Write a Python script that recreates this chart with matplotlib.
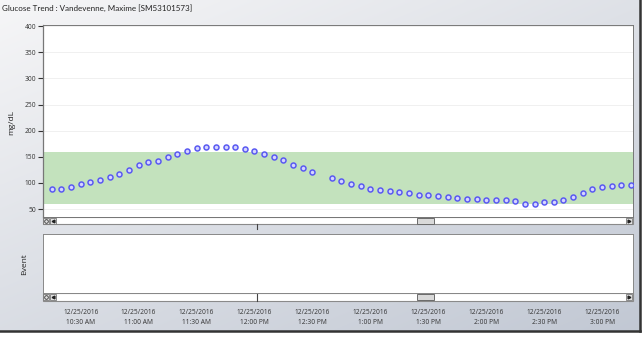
import matplotlib
matplotlib.use("Agg")
import matplotlib.pyplot as plt
import matplotlib.dates as mdates
from matplotlib.patches import Rectangle
import numpy as np
import pandas as pd

plt.rcParams['font.family'] = ['Open Sans', 'DejaVu Sans']

TITLE = "Glucose Trend : Vandevenne, Maxime [SM53101573]"

# one reading every 5 minutes from 10:15 to 15:15, 12:35 reading missing
glucose = [88, 88, 92, 98, 101, 106, 111, 118, 124, 134,
           140, 142, 149, 156, 162, 166, 168, 169, 169, 168,
           165, 161, 156, 149, 143, 135, 128, 121, np.nan, 109,
           104, 98, 94, 88, 86, 84, 83, 80, 78, 77,
           76, 74, 72, 70, 69, 67, 67, 67, 65, 59,
           60, 63, 64, 68, 74, 81, 88, 92, 95, 96,
           97]
times = pd.date_range("2016-12-25 10:15", periods=len(glucose), freq="5min")

target_low, target_high = 60, 160
y_ticks = [50, 100, 150, 200, 250, 300, 350, 400]
x_start = pd.Timestamp("2016-12-25 10:10:30")
x_end = pd.Timestamp("2016-12-25 15:15:50")
x_ticks = pd.date_range("2016-12-25 10:30", "2016-12-25 15:00", freq="30min")

W, H = 644, 337
fig = plt.figure(figsize=(W / 100, H / 100), dpi=100)


def frac(x0, y0, x1, y1):
    # pixel box (top-left origin) -> figure fraction rect
    return [x0 / W, 1 - y1 / H, (x1 - x0) / W, (y1 - y0) / H]


# window background in pixel coordinates
bg = fig.add_axes([0, 0, 1, 1], zorder=0)
bg.set_xlim(0, W)
bg.set_ylim(H, 0)
bg.axis('off')
gx, gy = np.meshgrid(np.linspace(0, 1, 200), np.linspace(0, 1, 100))
grad = 0.45 * gx + 0.55 * gy
c0 = np.array([0.965, 0.965, 0.97])
c1 = np.array([0.76, 0.785, 0.83])
img = c0 + grad[..., None] * (c1 - c0)
bg.imshow(img, extent=(0, 640, 331, 0), aspect='auto', interpolation='bilinear')
bg.plot([0, 640], [331, 331], color='#333333', lw=1.8)
bg.plot([640, 640], [0, 331], color='#333333', lw=1.8)

bg.text(2, 8, TITLE, fontsize=5.8, color='#222222', va='center', ha='left',
        family=['Lato', 'DejaVu Sans'])


def scrollbar(y0, y1):
    bg.add_patch(Rectangle((43, y0), 589.7, y1 - y0, facecolor='white',
                           edgecolor='#8a8a8a', lw=0.8))
    for bx in (43.5, 50.5):
        bg.add_patch(Rectangle((bx, y0 + 0.8), 6, y1 - y0 - 1.6,
                               facecolor='#e2e2e2', edgecolor='#7a7a7a', lw=0.6))
    bg.add_patch(Rectangle((626, y0 + 0.8), 6, y1 - y0 - 1.6,
                           facecolor='#e2e2e2', edgecolor='#7a7a7a', lw=0.6))
    cy = (y0 + y1) / 2
    bg.plot(46.5, cy, marker='o', ms=2.6, mfc='none', mec='#333333', mew=0.6)
    bg.plot(53.5, cy, marker='<', ms=2.0, color='#222222')
    bg.plot(629, cy, marker='>', ms=2.0, color='#222222')
    bg.add_patch(Rectangle((417, y0 + 0.5), 17, y1 - y0 - 1, facecolor='#d9d9d9',
                           edgecolor='#6a6a6a', lw=0.7))


scrollbar(217, 224.3)
scrollbar(293.3, 300.7)
bg.plot([257, 257], [224.3, 229], color='#444444', lw=0.8)
bg.plot([257, 257], [293.3, 300.7], color='#444444', lw=0.8)

# glucose panel
ax = fig.add_axes(frac(43, 25, 632.7, 217), zorder=1)
ax.axhspan(target_low, target_high, color='#c3e2bd', zorder=1, lw=0)
ax.plot(times, glucose, linestyle='none', marker='o', ms=3.6,
        mfc='#d6d6ff', mec='#5a5af2', mew=1.1, zorder=3)
ax.set_ylim(35, 402)
ax.set_xlim(x_start, x_end)
ax.set_yticks(y_ticks)
ax.tick_params(axis='y', labelsize=4.8, length=3.5, width=0.8,
               colors='#333333', pad=1.5)
ax.set_xticks([])
for yv in y_ticks:
    ax.axhline(yv, color='#eeeeee', lw=0.6, zorder=0)
for side, sp in ax.spines.items():
    sp.set_color('#777777')
    sp.set_linewidth(0.9 if side == 'left' else 0.7)

# event panel
ev = fig.add_axes(frac(43, 234.3, 632.7, 293.3), zorder=1)
ev.set_xlim(x_start, x_end)
ev.set_yticks([])
ev.set_xticks(x_ticks)
ev.xaxis.set_major_formatter(mdates.DateFormatter('%m/%d/%Y\n%-I:%M %p'))
ev.tick_params(axis='x', length=0, pad=11.5, labelsize=4.8, colors='#333333')
for tl in ev.get_xticklabels():
    tl.set_linespacing(1.45)
for sp in ev.spines.values():
    sp.set_color('#888888')
    sp.set_linewidth(0.7)

fig.text(12 / W, 1 - 122 / H, "mg/dL", rotation=90, fontsize=6,
         color='#222222', ha='center', va='center')
fig.text(25 / W, 1 - 264 / H, "Event", rotation=90, fontsize=6,
         color='#222222', ha='center', va='center')

fig.savefig("out.png", dpi=100)
